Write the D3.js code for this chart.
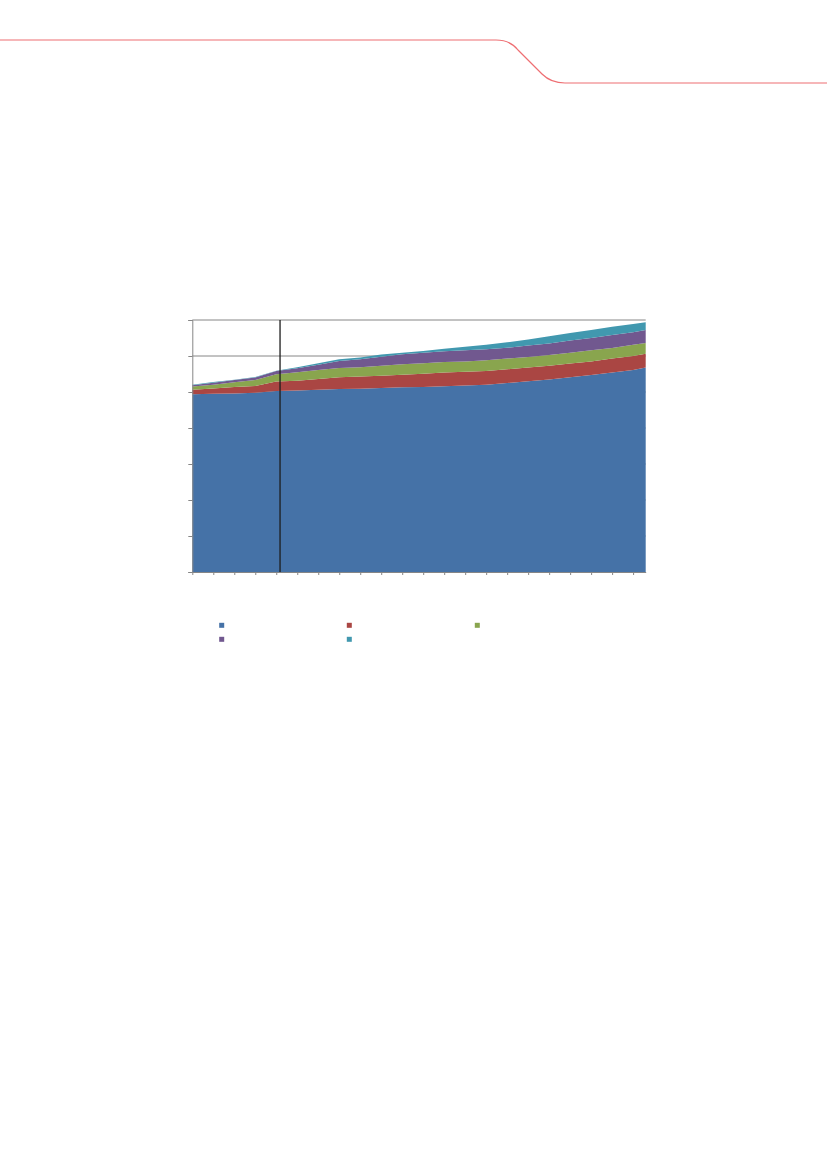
<!DOCTYPE html>
<html>
<head>
<meta charset="utf-8">
<script src="https://d3js.org/d3.v7.min.js"></script>
<style>
  body { margin: 0; background: #fff; }
  svg { display: block; }
</style>
</head>
<body>
<div id="chart"></div>
<script>
// positions along the category axis (last point sits at the right edge of the plot)
var steps = [0, 1, 2, 3, 4, 5, 6, 7, 8, 9, 10, 11, 12, 13, 14, 15, 16, 17, 18, 19, 20, 21, 21.6];
var xTicks = [0, 1, 2, 3, 4, 5, 6, 7, 8, 9, 10, 11, 12, 13, 14, 15, 16, 17, 18, 19, 20, 21];
var yTicks = [0, 1, 2, 3, 4, 5, 6, 7];
var markerStep = 4.18;   // vertical reference line

var seriesKeys = ["s1", "s2", "s3", "s4", "s5"];
var seriesColors = ["#4572A7", "#AA4643", "#89A54E", "#71588F", "#4198AF"];

var s1 = [4.94, 4.95, 4.96, 4.98, 5.03, 5.04, 5.06, 5.08, 5.09, 5.11, 5.13, 5.14, 5.16, 5.18, 5.20, 5.25, 5.30, 5.35, 5.41, 5.47, 5.54, 5.61, 5.68];
var s2 = [0.12, 0.15, 0.18, 0.19, 0.26, 0.27, 0.30, 0.33, 0.34, 0.34, 0.35, 0.37, 0.38, 0.38, 0.38, 0.38, 0.38, 0.38, 0.38, 0.38, 0.39, 0.39, 0.38];
var s3 = [0.09, 0.10, 0.13, 0.16, 0.20, 0.24, 0.25, 0.26, 0.26, 0.28, 0.29, 0.29, 0.29, 0.29, 0.30, 0.30, 0.29, 0.30, 0.30, 0.31, 0.29, 0.31, 0.30];
var s4 = [0.04, 0.06, 0.06, 0.07, 0.09, 0.11, 0.15, 0.19, 0.22, 0.25, 0.28, 0.29, 0.30, 0.31, 0.31, 0.30, 0.32, 0.32, 0.34, 0.34, 0.36, 0.35, 0.36];
var s5 = [0.01, 0.02, 0.01, 0.02, 0.01, 0.03, 0.04, 0.05, 0.05, 0.06, 0.04, 0.05, 0.07, 0.10, 0.12, 0.15, 0.17, 0.20, 0.21, 0.22, 0.23, 0.23, 0.22];

var W = 827, H = 1170;
var plot = { left: 192.3, right: 645.7, top: 320, bottom: 572 };

var svg = d3.select("#chart").append("svg")
    .attr("width", W)
    .attr("height", H);

// page header rule
var header = d3.path();
header.moveTo(0, 40);
header.lineTo(496, 40);
header.quadraticCurveTo(510, 40, 518, 50);
header.lineTo(542, 74);
header.quadraticCurveTo(551, 83, 565, 83);
header.lineTo(W, 83);
svg.append("path")
    .attr("d", header.toString())
    .attr("fill", "none")
    .attr("stroke", "#ee6f73")
    .attr("stroke-width", 1.2);

var x = d3.scaleLinear()
    .domain([0, 21.6])
    .range([plot.left, plot.right]);

var y = d3.scaleLinear()
    .domain([0, 7])
    .range([plot.bottom, plot.top]);

// gridlines (under the areas)
svg.append("g")
    .selectAll("line")
    .data(yTicks.slice(1))
    .enter()
    .append("line")
    .attr("x1", plot.left)
    .attr("x2", plot.right)
    .attr("y1", function(d) { return y(d); })
    .attr("y2", function(d) { return y(d); })
    .attr("stroke", "#868686")
    .attr("stroke-width", 1);

// stacked data
var rows = steps.map(function(s, i) {
    return { step: s, s1: s1[i], s2: s2[i], s3: s3[i], s4: s4[i], s5: s5[i] };
});
var stacked = d3.stack().keys(seriesKeys)(rows);

var area = d3.area()
    .x(function(d) { return x(d.data.step); })
    .y0(function(d) { return y(d[0]); })
    .y1(function(d) { return y(d[1]); });

svg.append("g")
    .selectAll("path")
    .data(stacked)
    .enter()
    .append("path")
    .attr("d", area)
    .attr("fill", function(d, i) { return seriesColors[i]; });

// axes
var yAxis = svg.append("g")
    .attr("transform", "translate(" + plot.left + ",0)")
    .call(d3.axisLeft(y).tickValues(yTicks).tickSize(4).tickFormat(""));
yAxis.select(".domain").attr("stroke", "#868686");
yAxis.selectAll(".tick line").attr("stroke", "#868686");

var xAxis = svg.append("g")
    .attr("transform", "translate(0," + plot.bottom + ")")
    .call(d3.axisBottom(x).tickValues(xTicks).tickSize(3).tickSizeOuter(0).tickFormat(""));
xAxis.select(".domain").attr("stroke", "#868686");
xAxis.selectAll(".tick line").attr("stroke", "#868686");

// vertical reference line
svg.append("line")
    .attr("x1", x(markerStep))
    .attr("x2", x(markerStep))
    .attr("y1", plot.top)
    .attr("y2", plot.bottom)
    .attr("stroke", "#1c1c1c")
    .attr("stroke-width", 1.3);

// legend swatches (no labels in the source)
var legendPos = [[221.7, 625.3], [349.3, 625.3], [477.3, 625.3], [221.7, 639.3], [349.3, 639.3]];
svg.append("g")
    .selectAll("rect")
    .data(seriesKeys)
    .enter()
    .append("rect")
    .attr("x", function(d, i) { return legendPos[i][0] - 2.5; })
    .attr("y", function(d, i) { return legendPos[i][1] - 2.5; })
    .attr("width", 5)
    .attr("height", 5)
    .attr("fill", function(d, i) { return seriesColors[i]; });
</script>
</body>
</html>
